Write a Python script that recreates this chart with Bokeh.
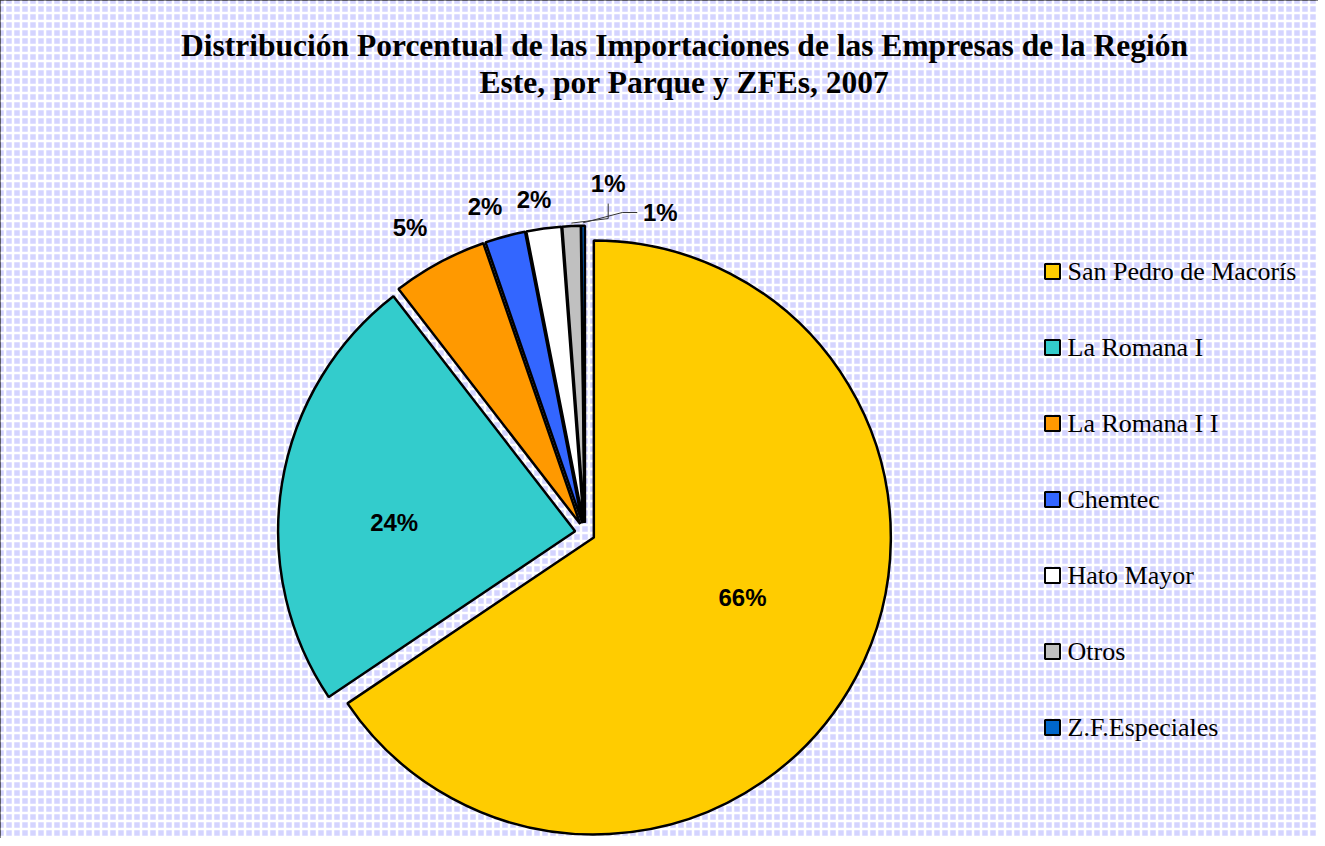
import math
from bokeh.plotting import figure
from bokeh.models import Range1d
from bokeh.core.properties import value
from bokeh.embed import file_html
from bokeh.resources import INLINE

# ---------------- data ----------------
categories = ["San Pedro de Macorís", "La Romana I", "La Romana I I", "Chemtec",
              "Hato Mayor", "Otros", "Z.F.Especiales"]
shares = [65.7, 24.0, 5.2, 2.2, 1.9, 1.0, 0.2]
pct_labels = ["66%", "24%", "5%", "2%", "2%", "1%", "1%"]
colors = ["#FFCC00", "#33CCCC", "#FF9900", "#3366FF", "#FFFFFF", "#C0C0C0", "#0066CC"]
title_lines = ["Distribución Porcentual de las Importaciones de las Empresas de la Región",
               "Este, por Parque y ZFEs, 2007"]

# ---------------- layout ----------------
W, H = 1318, 838
CX, CY, R = 584.5, H - 532.3, 297
EXPLODE = 10
label_r = [0.54, 0.61, 1.15, 1.115, 1.10, 1.145, 1.075]
label_dang = [6, 6.4, 1.5, 2, 1, -6.5, -14]

p = figure(width=W, height=H, x_range=Range1d(0, W), y_range=Range1d(0, H),
           output_backend="svg", toolbar_location=None, min_border=0,
           x_axis_type=None, y_axis_type=None)
p.grid.visible = False
p.background_fill_color = "#E4E4FF"
p.border_fill_color = "white"
p.outline_line_color = "#333333"
p.outline_line_width = 3

# patterned background
p.quad(left=[0], right=[W], bottom=[0], top=[H], fill_color="#D4D4FF",
       line_color=None, hatch_pattern="+", hatch_color="white",
       hatch_scale=8, hatch_weight=2.5)

total = sum(shares)
cum = 0.0
xs, ys, starts, ends, mids = [], [], [], [], []
for s in shares:
    a0 = 90 - cum / total * 360
    cum += s
    a1 = 90 - cum / total * 360
    mid = (a0 + a1) / 2
    xs.append(CX + EXPLODE * math.cos(math.radians(mid)))
    ys.append(CY + EXPLODE * math.sin(math.radians(mid)))
    starts.append(math.radians(a0))
    ends.append(math.radians(a1))
    mids.append(mid)

p.wedge(x=xs, y=ys, radius=R, start_angle=starts, end_angle=ends,
        direction="clock", fill_color=colors, line_color="black", line_width=2.5)

# percentage labels
lx, ly = [], []
for i in range(len(shares)):
    a = math.radians(mids[i] + label_dang[i])
    lx.append(xs[i] + R * label_r[i] * math.cos(a))
    ly.append(ys[i] + R * label_r[i] * math.sin(a))
p.text(x=lx, y=ly, text=pct_labels, text_align="center", text_baseline="middle",
       text_font=value("Liberation Sans"), text_font_style="bold",
       text_font_size="24px", text_color="black")

# leader lines for the thin slices
for i in (5, 6):
    a = math.radians(mids[i])
    ax = xs[i] + (R + 3) * math.cos(a)
    ay = ys[i] + (R + 3) * math.sin(a)
    if i == 5:
        px = [lx[i], lx[i], ax]
        py = [ly[i] - 20, ly[i] - 35, ay]
    else:
        px = [lx[i] - 23, lx[i] - 38, ax]
        py = [ly[i], ly[i], ay]
    p.line(x=px, y=py, line_color="#333333", line_width=1)

# title
p.text(x=[684, 684], y=[H - 45, H - 82], text=title_lines, text_align="center",
       text_baseline="middle", text_font=value("Liberation Serif"),
       text_font_style="bold", text_font_size="31.5px", text_color="black")

# legend
leg_y = [H - 271 - 76 * i for i in range(len(categories))]
p.rect(x=[1052] * len(categories), y=leg_y, width=15, height=15,
       fill_color=colors, line_color="black", line_width=2)
p.text(x=[1067] * len(categories), y=leg_y, text=categories, text_align="left",
       text_baseline="middle", text_font=value("Liberation Serif"),
       text_font_size="26px", text_color="black")

open("out.html", "w").write(file_html(p, INLINE))
